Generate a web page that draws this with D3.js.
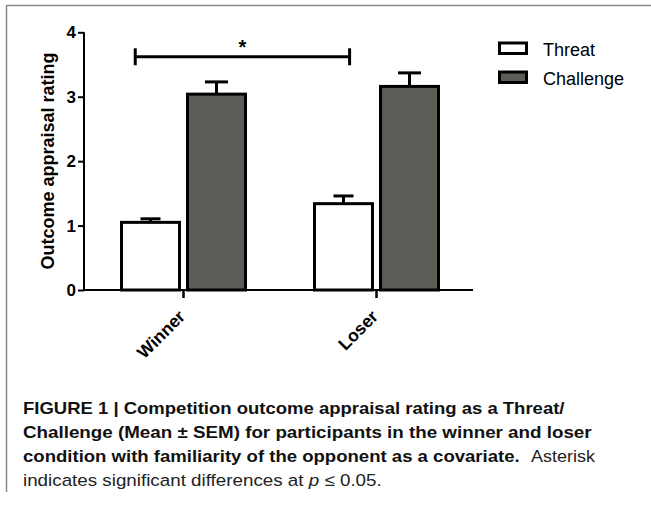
<!DOCTYPE html>
<html><head><meta charset="utf-8">
<script src="https://cdn.jsdelivr.net/npm/d3@7"></script>
<style>
html,body{margin:0;padding:0;background:#fff;}
svg{display:block;font-family:"Liberation Sans",Arial,Helvetica,sans-serif;}
</style></head>
<body>
<svg id="c" width="651" height="505"></svg>
<script>
const categories = ["Winner", "Loser"];
const seriesNames = ["Threat", "Challenge"];
const threatMean = [1.05, 1.34];
const threatSem = [0.055, 0.12];
const challengeMean = [3.04, 3.16];
const challengeSem = [0.19, 0.21];
const yTicks = [0, 1, 2, 3, 4];
const sigLevel = 3.62;
const seriesFill = ["#ffffff", "#5b5c56"];

const svg = d3.select("#c");

// frame
svg.append("line").attr("x1",6.5).attr("x2",651).attr("y1",5.5).attr("y2",5.5).attr("stroke","#8a8a8a").attr("stroke-width",1.5);
svg.append("line").attr("x1",6.5).attr("x2",6.5).attr("y1",5).attr("y2",492).attr("stroke","#8a8a8a").attr("stroke-width",1.5);

const y = d3.scaleLinear().domain([0,4]).range([290, 32.3]);
const x0 = d3.scaleBand().domain(categories).range([87, 473]).padding(0);
const x1 = d3.scaleBand().domain(seriesNames).range([0, x0.bandwidth()]).paddingInner(0.076).paddingOuter(0.5);

const data = [];
categories.forEach((c,i)=>{
  data.push({cat:c, s:"Threat", v:threatMean[i], e:threatSem[i]});
  data.push({cat:c, s:"Challenge", v:challengeMean[i], e:challengeSem[i]});
});
const fill = d3.scaleOrdinal().domain(seriesNames).range(seriesFill);

// error bars (behind bars)
const eg = svg.append("g").attr("stroke","#000").attr("stroke-width",3);
data.forEach(d=>{
  const cx = x0(d.cat)+x1(d.s)+x1.bandwidth()/2;
  const capW = d.s==="Threat"?20:23;
  eg.append("line").attr("x1",cx).attr("x2",cx).attr("y1",y(d.v)).attr("y2",y(d.v+d.e));
  eg.append("line").attr("x1",cx-capW/2).attr("x2",cx+capW/2).attr("y1",y(d.v+d.e)).attr("y2",y(d.v+d.e));
});

// bars
svg.append("g").selectAll("rect").data(data).join("rect")
  .attr("x", d=>x0(d.cat)+x1(d.s)+1.5)
  .attr("width", x1.bandwidth()-3)
  .attr("y", d=>y(d.v))
  .attr("height", d=>y(0)-y(d.v))
  .attr("fill", d=>fill(d.s))
  .attr("stroke","#000").attr("stroke-width",3);

// y axis
const yAxis = svg.append("g").attr("transform","translate(84,0)")
  .call(d3.axisLeft(y).tickValues(yTicks).tickFormat(d3.format("d")).tickSize(6).tickPadding(2));
yAxis.select(".domain").attr("stroke","#000").attr("stroke-width",2).attr("d", `M0,${y(4)}V${y(0)}`);
yAxis.selectAll(".tick line").attr("stroke","#000").attr("stroke-width",2);
yAxis.selectAll(".tick text").attr("font-size",17).attr("font-weight","bold").attr("fill","#000")
  .attr("font-family","Liberation Sans,Arial,sans-serif");

// x axis
const xAxisG = svg.append("g").attr("transform",`translate(0,${y(0)})`);
xAxisG.append("line").attr("x1",84).attr("x2",473).attr("y1",0).attr("y2",0).attr("stroke","#000").attr("stroke-width",2);
categories.forEach(c=>{
  const cx = x0(c)+x0.bandwidth()/2;
  xAxisG.append("line").attr("x1",cx).attr("x2",cx).attr("y1",0).attr("y2",8).attr("stroke","#000").attr("stroke-width",2.5);
  xAxisG.append("text").text(c)
    .attr("transform",`translate(${cx-6},${19}) rotate(-45)`)
    .attr("text-anchor","end").attr("dy","0.7em")
    .attr("font-size",17.5).attr("font-weight","bold").attr("fill","#000");
});

// significance bracket
const bx1 = x0("Winner")+x1("Threat")+x1.bandwidth()*0.25;
const bx2 = x0("Loser")+x1("Threat")+x1.bandwidth()*0.6;
const by = y(sigLevel);
const sg = svg.append("g").attr("stroke","#000").attr("stroke-width",3);
sg.append("line").attr("x1",bx1).attr("x2",bx2).attr("y1",by).attr("y2",by);
sg.append("line").attr("x1",bx1).attr("x2",bx1).attr("y1",by-8.5).attr("y2",by+8.5);
sg.append("line").attr("x1",bx2).attr("x2",bx2).attr("y1",by-8.5).attr("y2",by+8.5);
svg.append("text").text("*").attr("x",(bx1+bx2)/2).attr("y",by-3).attr("text-anchor","middle")
  .attr("font-size",20).attr("font-weight","bold").attr("fill","#000");

// y label
svg.append("text").text("Outcome appraisal rating")
  .attr("transform","translate(54,161) rotate(-90)")
  .attr("text-anchor","middle").attr("font-size",18).attr("font-weight","bold").attr("fill","#000");

// legend
const lg = svg.append("g");
seriesNames.forEach((s,i)=>{
  const yy = 43 + i*29;
  lg.append("rect").attr("x",499.5).attr("y",yy).attr("width",27).attr("height",10.5)
    .attr("fill",seriesFill[i]).attr("stroke","#000").attr("stroke-width",3);
  lg.append("text").text(s).attr("x",543).attr("y",yy+13).attr("font-size",18).attr("fill","#000");
});

// caption
function fitLine(sel, x, yb, target){
  const w = sel.node().getComputedTextLength();
  sel.attr("transform",`translate(${x},${yb}) scale(${target/w},1)`);
}
const capSize = 16.5;
const l1 = svg.append("text").attr("font-size",capSize).attr("font-weight","bold").attr("fill","#111")
  .text("FIGURE 1 | Competition outcome appraisal rating as a Threat/");
fitLine(l1, 23, 414, 542);
const l2 = svg.append("text").attr("font-size",capSize).attr("font-weight","bold").attr("fill","#111")
  .text("Challenge (Mean \u00b1 SEM) for participants in the winner and loser");
fitLine(l2, 23, 438, 569);
const l3 = svg.append("text").attr("font-size",capSize).attr("font-weight","bold").attr("fill","#111")
  .text("condition with familiarity of the opponent as a covariate.");
fitLine(l3, 23, 462, 497);
const l3b = svg.append("text").attr("font-size",capSize).attr("fill","#222")
  .text("Asterisk");
fitLine(l3b, 531, 462, 64);
const l4 = svg.append("text").attr("font-size",capSize).attr("fill","#222");
l4.append("tspan").text("indicates significant differences at ");
l4.append("tspan").attr("font-style","italic").text("p");
l4.append("tspan").text(" \u2264 0.05.");
fitLine(l4, 23, 486, 359);
</script>
</body></html>
